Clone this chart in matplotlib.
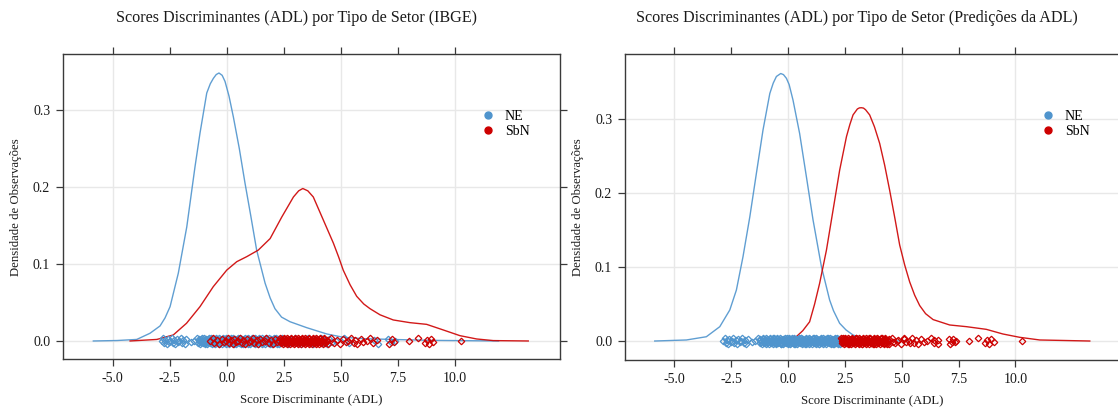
import matplotlib
matplotlib.use("Agg")
import matplotlib.pyplot as plt
from matplotlib.lines import Line2D
import numpy as np

plt.rcParams['font.family'] = ['Liberation Serif', 'DejaVu Serif']

# discriminant scores by IBGE sector type
ne_scores = [
    -2.84, -2.79, -2.73, -2.69, -2.62, -2.58, -2.51, -2.47, -2.40, -2.36, -2.29, -2.25,
    -2.18, -2.13, -2.07, -2.02, -1.95, -1.91, -1.84, -1.77, -1.58, -1.43, -1.32,
    -1.25, -1.21, -1.16, -1.12, -1.07, -1.03, -0.98, -0.94, -0.89, -0.85, -0.80, -0.76,
    -0.71, -0.67, -0.62, -0.58, -0.53, -0.49, -0.44, -0.40, -0.35, -0.31, -0.26, -0.22,
    -0.17, -0.13, -0.08, -0.04, 0.01, 0.05, 0.10, 0.14, 0.19, 0.23, 0.28, 0.32,
    0.37, 0.41, 0.46, 0.50, 0.55, 0.59, 0.64, 0.68, 0.73, 0.77, 0.82, 0.86,
    0.91, 0.95, 1.00, 1.04, 1.09, 1.13, 1.18, 1.22, 1.27, 1.31, 1.36, 1.40,
    1.45, 1.49, 1.54, 1.58, 1.63, 1.67, 1.72, 1.76, 1.81, 1.85, 1.90, 1.94,
    1.99, 2.03, 2.08, 2.12, 2.17, 2.21, 2.26, 2.30,
    -1.23, -1.19, -1.14, -1.10, -1.05, -1.01, -0.96, -0.92, -0.87, -0.83, -0.78, -0.74,
    -0.69, -0.65, -0.60, -0.56, -0.51, -0.47, -0.42, -0.38, -0.33, -0.29, -0.24, -0.20,
    -0.15, -0.11, -0.06, -0.02, 0.03, 0.08, 0.12, 0.17, 0.21, 0.26, 0.30, 0.35,
    0.39, 0.44, 0.48, 0.53, 0.57, 0.62, 0.66, 0.71, 0.75, 0.80, 0.84, 0.89,
    0.93, 0.98, 1.02, 1.07, 1.11, 1.16, 1.20, 1.25, 1.29, 1.34, 1.38, 1.43,
    1.47, 1.52, 1.56, 1.61, 1.65, 1.70, 1.74, 1.79, 1.83, 1.88, 1.92, 1.97,
    2.01, 2.06, 2.10, 2.15, 2.19, 2.24, 2.28,
    2.36, 2.44, 2.51, 2.60, 2.68, 2.75, 2.83, 2.92, 3.00, 3.07, 3.16, 3.24,
    3.31, 3.40, 3.48, 3.55, 3.64, 3.72, 3.79, 3.88, 3.96, 4.03, 4.12, 4.20,
    4.28, 4.37, 4.46,
    4.62, 4.78, 5.12, 5.36, 6.44, 6.61, 7.06, 7.21, 7.38,
]
sbn_scores = [
    -0.74, -0.62, -0.55, -0.41, -0.33, -0.22, -0.12, -0.05, 0.04, 0.11, 0.19, 0.27,
    0.33, 0.42, 0.50, 0.58, 0.66, 0.71, 0.80, 0.89, 0.97, 1.05, 1.13, 1.20,
    1.31, 1.38, 1.47, 1.55, 1.66, 1.73, 1.84, 1.92, 2.03, 2.12, 2.21, 2.28,
    2.34, 2.38, 2.43, 2.47, 2.52, 2.56, 2.61, 2.65, 2.70, 2.74, 2.79, 2.83,
    2.88, 2.92, 2.97, 3.01, 3.06, 3.10, 3.15, 3.19, 3.24, 3.28, 3.33, 3.37,
    3.42, 3.46, 3.51, 3.55, 3.60, 3.64, 3.69, 3.73, 3.78, 3.82, 3.87, 3.91,
    3.96, 4.00, 4.05, 4.09, 4.14, 4.19, 4.25, 4.31, 4.38, 4.45,
    2.36, 2.41, 2.45, 2.50, 2.54, 2.59, 2.63, 2.68, 2.72, 2.77, 2.81, 2.86,
    2.90, 2.95, 2.99, 3.04, 3.08, 3.13, 3.17, 3.22, 3.26, 3.31, 3.35, 3.40,
    3.44, 3.49, 3.53, 3.58, 3.62, 3.67, 3.71, 3.76, 3.80, 3.85, 3.89, 3.94,
    3.98, 4.03, 4.07, 4.12, 4.16, 4.22, 4.28, 4.34, 4.41,
    4.58, 4.70, 4.83, 4.95, 5.08, 5.20, 5.31, 5.44, 5.55, 5.63, 5.72, 5.86,
    5.98, 6.12, 6.27, 6.41, 6.58, 7.12, 7.25, 7.33, 7.96, 8.36, 8.68, 8.77,
    8.85, 8.93, 9.05, 10.27,
]
# LDA cut-off between the predicted groups
cutoff = 2.32

# kernel density curves
ibge_ne_x = [-5.84, -4.8, -3.94, -3.36, -2.92, -2.7, -2.48, -2.12, -1.75, -1.39, -1.17,
             -0.875, -0.72, -0.586, -0.46, -0.34, -0.2, -0.074, 0.1, 0.29, 0.55, 0.80,
             1.05, 1.31, 1.68, 1.9, 2.11, 2.4, 2.77, 3.5, 4.38, 5.1, 6.0, 7.5, 9.0, 11.9]
ibge_ne_d = [0, 0.0006, 0.002, 0.010, 0.0195, 0.030, 0.0446, 0.088, 0.148, 0.226, 0.270,
             0.322, 0.334, 0.341, 0.346, 0.348, 0.345, 0.337, 0.318, 0.291, 0.250, 0.205,
             0.163, 0.118, 0.075, 0.056, 0.042, 0.031, 0.025, 0.0173, 0.0091, 0.0048,
             0.003, 0.0018, 0.0008, 0]
ibge_sbn_x = [-4.23, -3.06, -2.34, -1.76, -1.17, -0.59, 0.0, 0.44, 0.875, 1.38, 1.90, 2.41,
              2.92, 3.15, 3.33, 3.55, 3.79, 4.23, 4.67, 4.9, 5.10, 5.4, 5.69, 6.0, 6.27,
              6.71, 7.29, 8.02, 8.75, 9.48, 10.21, 10.94, 11.67, 13.2]
ibge_sbn_d = [0, 0.002, 0.0078, 0.023, 0.0446, 0.0705, 0.092, 0.103, 0.1095, 0.118, 0.133,
              0.161, 0.187, 0.195, 0.198, 0.195, 0.187, 0.157, 0.127, 0.109, 0.092, 0.073,
              0.058, 0.048, 0.042, 0.034, 0.0273, 0.0238, 0.0216, 0.0143, 0.0069, 0.0026,
              0.0005, 0]
pred_ne_x = [-5.86, -4.47, -3.59, -3.0, -2.56, -2.27, -1.98, -1.68, -1.39, -1.10, -0.80,
             -0.65, -0.51, -0.32, -0.2, -0.07, 0.05, 0.22, 0.51, 0.81, 1.10, 1.47, 1.83,
             2.0, 2.27, 2.55, 2.86, 3.45, 4.3, 5.3]
pred_ne_d = [0, 0.0014, 0.0058, 0.0194, 0.042, 0.069, 0.114, 0.168, 0.227, 0.2855, 0.335,
             0.349, 0.358, 0.362, 0.3605, 0.3555, 0.347, 0.326, 0.281, 0.222, 0.164,
             0.1005, 0.0555, 0.041, 0.024, 0.015, 0.0081, 0.002, 0.0003, 0]
pred_sbn_x = [-0.58, 0.37, 0.65, 0.95, 1.17, 1.39, 1.69, 1.98, 2.27, 2.57, 2.72, 2.86, 3.05,
              3.14, 3.23, 3.32, 3.41, 3.59, 3.8, 4.03, 4.25, 4.47, 4.7, 4.91, 5.13, 5.35,
              5.57, 5.79, 6.05, 6.38, 7.11, 7.85, 8.72, 9.45, 10.19, 11.07, 13.27]
pred_sbn_d = [0, 0.006, 0.014, 0.026, 0.05, 0.078, 0.123, 0.177, 0.231, 0.2765, 0.293,
              0.306, 0.314, 0.3155, 0.3157, 0.3152, 0.313, 0.306, 0.29, 0.2675, 0.238,
              0.204, 0.166, 0.130, 0.103, 0.080, 0.062, 0.048, 0.037, 0.029, 0.0217,
              0.0194, 0.0158, 0.0095, 0.005, 0.0014, 0]

groups = ['NE', 'SbN']
x_ticks = [-5.0, -2.5, 0.0, 2.5, 5.0, 7.5, 10.0]
y_ticks = [0.0, 0.1, 0.2, 0.3]

BLUE = '#4f94cd'
RED = '#cd0000'
TXT = '#1a1a1a'
EDGE = '#3a3a3a'
# small fixed vertical spread for the strip of points
jitter = [0.0, 0.004, -0.003, 0.0015, -0.0045, 0.003, -0.0015]

ne = np.array(ne_scores)
sbn = np.array(sbn_scores)
allscores = np.concatenate([ne, sbn])
pred_ne = allscores[allscores < cutoff]
pred_sbn = allscores[allscores >= cutoff]


def strip(ax, vals, color):
    off = np.resize(jitter, len(vals))
    ax.plot(vals, off, ls='none', marker='D', ms=3.3, mfc='none', mec=color, mew=0.9,
            zorder=3)


def panel(ax, curves, points, ylim, right_ticks=True):
    for (cx, cy), pts, col in zip(curves, points, [BLUE, RED]):
        ax.plot(cx, cy, color=col, lw=1.0, alpha=0.9, zorder=2)
        strip(ax, pts, col)
    ax.set_xlim(-7.18, 14.59)
    ax.set_ylim(*ylim)
    ax.set_xticks(x_ticks)
    ax.set_xticklabels([f'{v:.1f}' for v in x_ticks])
    ax.set_yticks(y_ticks)
    ax.set_yticklabels([f'{v:.1f}' for v in y_ticks])
    for v in [-5, 0, 5, 10]:
        ax.axvline(v, color='#e8e8e8', lw=1, zorder=0)
    for v in y_ticks:
        ax.axhline(v, color='#e8e8e8', lw=1, zorder=0)
    ax.tick_params(direction='out', length=5, width=0.9, color=EDGE, labelsize=10,
                   labelcolor=TXT, top=True, right=right_ticks, pad=4)
    for s in ax.spines.values():
        s.set_color(EDGE)
        s.set_linewidth(1.0)
    ax.set_xlabel('Score Discriminante (ADL)', fontsize=9.2, color=TXT, labelpad=7)
    ax.set_ylabel('Densidade de Observações', fontsize=9.2, color=TXT, labelpad=8)
    handles = [Line2D([], [], ls='none', marker='o', ms=5, color=c) for c in [BLUE, RED]]
    ax.legend(handles, groups, loc='upper left', bbox_to_anchor=(0.83, 0.836),
              frameon=False, fontsize=10, handlelength=1.0, handletextpad=0.7,
              labelspacing=0.15, borderaxespad=0)


fig = plt.figure(figsize=(11.18, 4.12), dpi=100)
ax1 = fig.add_axes([0.0561, 0.1279, 0.4448, 0.7403])
ax2 = fig.add_axes([0.5588, 0.1262, 0.4428, 0.7420])

panel(ax1, [(ibge_ne_x, ibge_ne_d), (ibge_sbn_x, ibge_sbn_d)], [ne, sbn], (-0.0238, 0.3723))
panel(ax2, [(pred_ne_x, pred_ne_d), (pred_sbn_x, pred_sbn_d)], [pred_ne, pred_sbn],
      (-0.0257, 0.388))

fig.text(297 / 1118, 1 - 18 / 412, 'Scores Discriminantes (ADL) por Tipo de Setor (IBGE)',
         ha='center', va='center', fontsize=11.6, color=TXT)
fig.text(857 / 1118, 1 - 18 / 412,
         'Scores Discriminantes (ADL) por Tipo de Setor (Predições da ADL)',
         ha='center', va='center', fontsize=11.6, color=TXT)

fig.savefig('out.png', dpi=100)
